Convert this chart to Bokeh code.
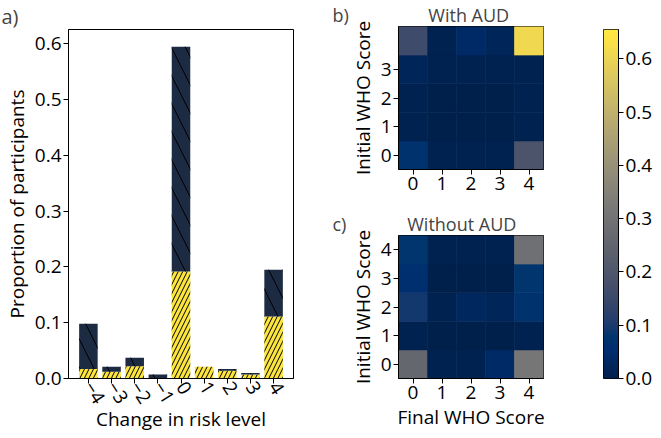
import numpy as np
from bokeh.plotting import figure
from bokeh.layouts import row, column
from bokeh.models import Range1d, FixedTicker, LinearColorMapper, NumeralTickFormatter, ColumnDataSource
from bokeh.palettes import Cividis256
from bokeh.embed import file_html
from bokeh.resources import INLINE
from bokeh.transform import linear_cmap

FONT = "Open Sans"

# ---------------- data ----------------
change_levels = [-4, -3, -2, -1, 0, 1, 2, 3, 4]
change_labels = ["\u22124", "\u22123", "\u22122", "\u22121", "0", "1", "2", "3", "4"]
yellow_part = [0.017, 0.012, 0.022, 0.0, 0.192, 0.021, 0.014, 0.007, 0.111]
navy_part = [0.081, 0.009, 0.015, 0.007, 0.403, 0.0, 0.003, 0.003, 0.084]

who_scores = [0, 1, 2, 3, 4]
# rows = initial WHO score 0..4, columns = final WHO score 0..4
with_aud = [
    [0.07, 0.01, 0.01, 0.01, 0.19],
    [0.01, 0.00, 0.00, 0.00, 0.01],
    [0.01, 0.00, 0.00, 0.00, 0.01],
    [0.02, 0.01, 0.01, 0.01, 0.01],
    [0.16, 0.01, 0.04, 0.02, 0.61],
]
without_aud = [
    [0.26, 0.01, 0.01, 0.04, 0.31],
    [0.01, 0.00, 0.00, 0.00, 0.01],
    [0.09, 0.01, 0.03, 0.02, 0.07],
    [0.06, 0.00, 0.00, 0.00, 0.08],
    [0.08, 0.01, 0.01, 0.01, 0.29],
]
cbar_ticks = [0.0, 0.1, 0.2, 0.3, 0.4, 0.5, 0.6]
vmax = 0.655

NAVY = "#1d2b42"
YELLOW = "#fbe53e"
NB = "\u00a0"


def style(p, fs="19px"):
    p.background_fill_color = "white"
    p.border_fill_color = "white"
    p.outline_line_color = "black"
    p.outline_line_width = 1
    p.xgrid.visible = False
    p.ygrid.visible = False
    for ax in list(p.xaxis) + list(p.yaxis):
        ax.major_label_text_font = FONT
        ax.major_label_text_font_size = fs
        ax.major_label_text_color = "black"
        ax.axis_label_text_font = FONT
        ax.axis_label_text_font_size = "19px"
        ax.axis_label_text_font_style = "normal"
        ax.axis_label_text_color = "black"
        ax.major_tick_in = 0
        ax.major_tick_out = 5
        ax.minor_tick_line_color = None
        ax.axis_line_color = "black"
        ax.major_tick_line_color = "black"
        ax.major_label_standoff = 2
        ax.axis_label_standoff = 2


def set_title(p, text, size, offset):
    p.title.text = text
    p.title.align = "left"
    p.title.offset = offset
    p.title.text_font = FONT
    p.title.text_font_size = size
    p.title.text_font_style = "normal"
    p.title.standoff = 0


# ---------------- panel a ----------------
pa = figure(width=330, height=436, output_backend="svg", toolbar_location=None,
            x_range=Range1d(-4.86, 4.86), y_range=Range1d(0, 0.626),
            min_border_left=68, min_border_right=37, min_border_top=25, min_border_bottom=58)
src = ColumnDataSource(dict(x=change_levels, yb=yellow_part,
                            nt=[a + b for a, b in zip(yellow_part, navy_part)]))
pa.vbar(x="x", bottom=0, top="yb", width=0.8, source=src, fill_color=YELLOW, line_color=None,
        hatch_pattern="/", hatch_color="black", hatch_weight=1, hatch_scale=9)
pa.vbar(x="x", bottom="yb", top="nt", width=0.8, source=src, fill_color=NAVY, line_color=None,
        hatch_pattern="\\", hatch_color="black", hatch_weight=1, hatch_scale=28)
style(pa)
pa.xaxis.ticker = FixedTicker(ticks=change_levels)
pa.xaxis.major_label_overrides = {k: v for k, v in zip(change_levels, change_labels)}
pa.xaxis.major_label_orientation = -1.0
pa.xaxis.major_label_standoff = 0
pa.xaxis.axis_label_standoff = -6
pa.yaxis.ticker = FixedTicker(ticks=cbar_ticks)
pa.yaxis.formatter = NumeralTickFormatter(format="0.0")
pa.xaxis.axis_label = "Change in risk level"
pa.yaxis.axis_label = "Proportion of participants"
set_title(pa, "a)", "20px", -67)

# ---------------- heatmaps ----------------
mapper = LinearColorMapper(palette=Cividis256, low=0, high=vmax)


def heat(matrix, title, height, top, bottom, show_xlabel, yticks):
    p = figure(width=230, height=height, output_backend="svg", toolbar_location=None,
               x_range=Range1d(-0.5, 4.5), y_range=Range1d(-0.5, 4.5),
               min_border_left=68, min_border_right=17, min_border_top=top, min_border_bottom=bottom)
    xs, ys, vs = [], [], []
    for iy, rowv in enumerate(matrix):
        for ix, v in enumerate(rowv):
            xs.append(who_scores[ix]); ys.append(who_scores[iy]); vs.append(v)
    s = ColumnDataSource(dict(x=xs, y=ys, v=vs))
    cm = linear_cmap("v", Cividis256, 0, vmax)
    p.rect(x="x", y="y", width=1, height=1, source=s, fill_color=cm, line_color=cm, line_width=0.6)
    style(p)
    set_title(p, title, "18px", -66)
    p.xaxis.ticker = FixedTicker(ticks=who_scores)
    p.yaxis.ticker = FixedTicker(ticks=yticks)
    p.yaxis.axis_label = "Initial WHO Score"
    if show_xlabel:
        p.xaxis.axis_label = "Final WHO Score"
    return p


pb = heat(with_aud, "b)" + NB * 17 + "With AUD", 208, 25, 39, False, [0, 1, 2, 3])
pc = heat(without_aud, "c)" + NB * 13 + "Without AUD", 228, 27, 58, True, [0, 1, 2, 3, 4])

# ---------------- colorbar ----------------
pd_ = figure(width=95, height=436, output_backend="svg", toolbar_location=None,
             x_range=Range1d(0, 1), y_range=Range1d(0, vmax), y_axis_location="right",
             min_border_left=43, min_border_right=30, min_border_top=25, min_border_bottom=58)
grad = np.linspace(0, vmax, 256).reshape(256, 1)
pd_.image(image=[grad], x=0, y=0, dw=1, dh=vmax, color_mapper=mapper)
style(pd_)
pd_.xaxis.visible = False
pd_.yaxis.ticker = FixedTicker(ticks=cbar_ticks)
pd_.yaxis.formatter = NumeralTickFormatter(format="0.0")

layout = row(pa, column(pb, pc, spacing=0), pd_, spacing=0)
open("out.html", "w").write(file_html(layout, INLINE))
